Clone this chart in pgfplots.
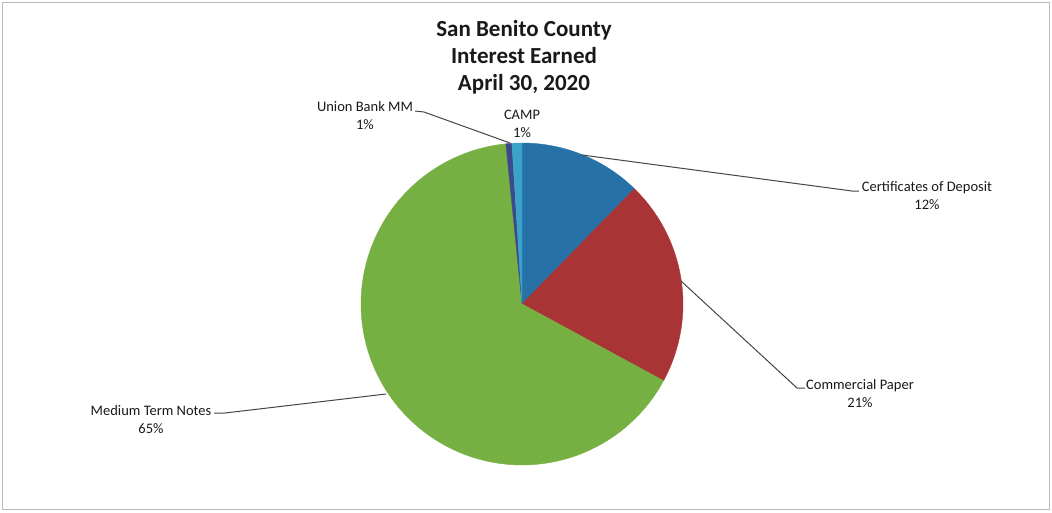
\documentclass[border=0pt]{standalone}
\usepackage{pgfplots}
\pgfplotsset{compat=1.18}
\usepackage{fontspec}
\setmainfont{Carlito}
% slice values (percent), clockwise from 12 o'clock
\def\vCD{12.3}
\def\vCP{20.6}
\def\vMTN{65.5}
\def\vUB{0.6}
\def\vCAMP{1.0}
\pgfmathsetmacro\aA{3.6*\vCD}
\pgfmathsetmacro\aB{\aA+3.6*\vCP}
\pgfmathsetmacro\aC{\aB+3.6*\vMTN}
\pgfmathsetmacro\aD{\aC+3.6*\vUB}
\pgfmathsetmacro\aE{\aD+3.6*\vCAMP}
\def\cx{522}
\def\cy{304}
\def\rr{161}
\definecolor{cdblue}{HTML}{2672A8}
\definecolor{cpred}{HTML}{A93435}
\definecolor{mtngreen}{HTML}{77B042}
\definecolor{ubnavy}{HTML}{3C4A8C}
\definecolor{campcyan}{HTML}{3BA3C9}
\definecolor{leader}{HTML}{444444}
\begin{document}
\begin{tikzpicture}
\begin{axis}[
  width=1052pt, height=512pt, scale only axis,
  xmin=0, xmax=1052, ymin=0, ymax=512, y dir=reverse,
  hide axis, clip=false,
]
\path (axis cs:0,0) rectangle (axis cs:1052,512);
\draw[gray!55, line width=1pt] (axis cs:2,2) rectangle (axis cs:1049,509);
% slices
\addplot[draw=cdblue, fill=cdblue, domain=0:\aA, samples=40, variable=\t] ({\cx+\rr*sin(\t)},{\cy-\rr*cos(\t)}) -- (axis cs:\cx,\cy) -- cycle;
\addplot[draw=cpred, fill=cpred, domain=\aA:\aB, samples=50, variable=\t] ({\cx+\rr*sin(\t)},{\cy-\rr*cos(\t)}) -- (axis cs:\cx,\cy) -- cycle;
\addplot[draw=mtngreen, fill=mtngreen, domain=\aB:\aC, samples=120, variable=\t] ({\cx+\rr*sin(\t)},{\cy-\rr*cos(\t)}) -- (axis cs:\cx,\cy) -- cycle;
\addplot[draw=ubnavy, fill=ubnavy, domain=\aC:\aD, samples=5, variable=\t] ({\cx+\rr*sin(\t)},{\cy-\rr*cos(\t)}) -- (axis cs:\cx,\cy) -- cycle;
\addplot[draw=campcyan, fill=campcyan, domain=\aD:\aE, samples=5, variable=\t] ({\cx+\rr*sin(\t)},{\cy-\rr*cos(\t)}) -- (axis cs:\cx,\cy) -- cycle;
% leader lines
\addplot[leader, line width=1pt, mark=none] coordinates {(415,111) (424,112) (510,143)};
\addplot[leader, line width=1pt, mark=none] coordinates {(582,155) (852,191) (859,191)};
\addplot[leader, line width=1pt, mark=none] coordinates {(681,281) (797,388) (805,388)};
\addplot[leader, line width=1pt, mark=none] coordinates {(386,394) (225,413) (214,413)};
% labels
\tikzset{lbl/.style={font=\fontsize{14.5}{18}\selectfont, align=center, text=black!90}}
\node[lbl] at (axis cs:365,116) {Union Bank MM\\1\%};
\node[lbl] at (axis cs:522,124) {CAMP\\1\%};
\node[lbl] at (axis cs:927,196) {Certificates of Deposit\\12\%};
\node[lbl] at (axis cs:860,394) {Commercial Paper\\21\%};
\node[lbl] at (axis cs:151,420) {Medium Term Notes\\65\%};
% title
\node[font=\bfseries\fontsize{23}{27}\selectfont, align=center, text=black!90] at (axis cs:524,57) {San Benito County\\Interest Earned\\April 30, 2020};
\end{axis}
\end{tikzpicture}
\end{document}
